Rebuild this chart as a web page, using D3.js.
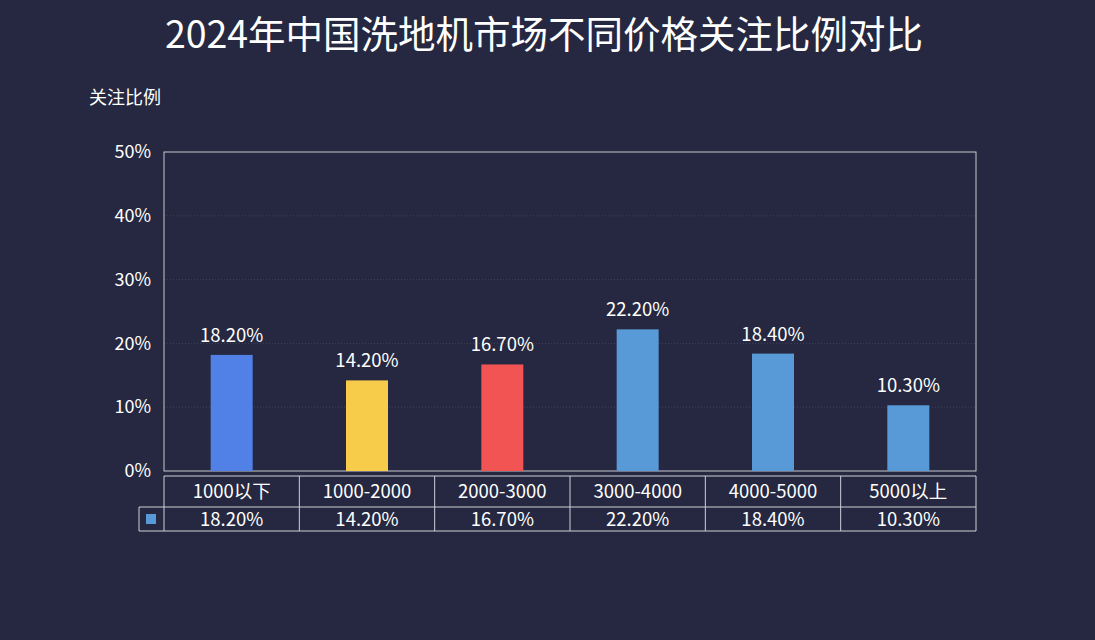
<!DOCTYPE html>
<html><head><meta charset="utf-8">
<script src="https://cdn.jsdelivr.net/npm/d3@7"></script>
<style>
html,body{margin:0;padding:0;background:#252840;}
text{font-family:"Noto Sans CJK SC","Noto Sans",sans-serif;fill:#fff;}
</style></head>
<body>
<svg id="c" width="1095" height="640"></svg>
<script>
const categories = ["1000以下","1000-2000","2000-3000","3000-4000","4000-5000","5000以上"];
const values = [18.2, 14.2, 16.7, 22.2, 18.4, 10.3];
const barColors = ["#5181e6","#f8cc4b","#f25353","#5899d7","#5899d7","#5899d7"];
const yTicks = [0,10,20,30,40,50];
const title = "2024年中国洗地机市场不同价格关注比例对比";
const yTitle = "关注比例";

(function(){
const svg = d3.select("#c");
const W = 1095, H = 640;
svg.append("rect").attr("width",W).attr("height",H).attr("fill","#252840");

const pL = 164, pR = 976, pT = 152, pB = 471;
const x = d3.scaleBand().domain(categories).range([pL,pR]).paddingInner(0).paddingOuter(0);
const y = d3.scaleLinear().domain([0,50]).range([pB,pT]);

svg.append("text").attr("x",544).attr("y",48).attr("text-anchor","middle")
  .attr("font-size",37.5).text(title);
svg.append("text").attr("x",89).attr("y",104).attr("font-size",18).text(yTitle);

svg.append("g").selectAll("line").data(yTicks.filter(t=>t>0&&t<50)).join("line")
  .attr("x1",pL).attr("x2",pR).attr("y1",d=>y(d)).attr("y2",d=>y(d))
  .attr("stroke","#3d4058").attr("stroke-dasharray","1,2");

const yAxis = d3.axisLeft(y).tickValues(yTicks).tickFormat(d=>d+"%").tickSize(0).tickPadding(13);
const ga = svg.append("g").attr("transform",`translate(${pL},0)`).call(yAxis);
ga.select(".domain").remove();
ga.selectAll("text").attr("font-size",18).attr("fill","#fff").style("font-family","'Noto Sans CJK SC',sans-serif");

svg.append("rect").attr("x",pL).attr("y",pT).attr("width",pR-pL).attr("height",pB-pT)
  .attr("fill","none").attr("stroke","#c8c8d0").attr("stroke-width",1);

const bw = 42;
svg.append("g").selectAll("rect").data(values).join("rect")
  .attr("x",(d,i)=>x(categories[i])+x.bandwidth()/2-bw/2)
  .attr("width",bw)
  .attr("y",d=>y(d)).attr("height",d=>y(0)-y(d))
  .attr("fill",(d,i)=>barColors[i]);

svg.append("g").selectAll("text").data(values).join("text")
  .attr("x",(d,i)=>x(categories[i])+x.bandwidth()/2)
  .attr("y",d=>y(d)-13).attr("text-anchor","middle").attr("font-size",18.5)
  .text(d=>d.toFixed(2)+"%");

const t0 = 476, t1 = 507, t2 = 531, legL = 139;
const tg = svg.append("g").attr("stroke","#d0d0d8").attr("stroke-width",1);
tg.append("line").attr("x1",pL).attr("x2",pR).attr("y1",t0).attr("y2",t0);
tg.append("line").attr("x1",legL).attr("x2",pR).attr("y1",t1).attr("y2",t1);
tg.append("line").attr("x1",legL).attr("x2",pR).attr("y1",t2).attr("y2",t2);
tg.append("line").attr("x1",legL).attr("x2",legL).attr("y1",t1).attr("y2",t2);
const edges = categories.map(c=>x(c)).concat([pR]);
tg.selectAll(".v").data(edges).join("line").attr("class","v")
  .attr("x1",d=>d).attr("x2",d=>d).attr("y1",t0).attr("y2",t2);

svg.append("rect").attr("x",146).attr("y",514).attr("width",10).attr("height",10).attr("fill","#5899d7");

svg.append("g").selectAll("text").data(categories).join("text")
  .attr("x",d=>x(d)+x.bandwidth()/2).attr("y",(t0+t1)/2+6.5).attr("text-anchor","middle")
  .attr("font-size",18.5).text(d=>d);
svg.append("g").selectAll("text").data(values).join("text")
  .attr("x",(d,i)=>x(categories[i])+x.bandwidth()/2).attr("y",(t1+t2)/2+6.5).attr("text-anchor","middle")
  .attr("font-size",18.5).text(d=>d.toFixed(2)+"%");
})();
</script>
</body></html>
